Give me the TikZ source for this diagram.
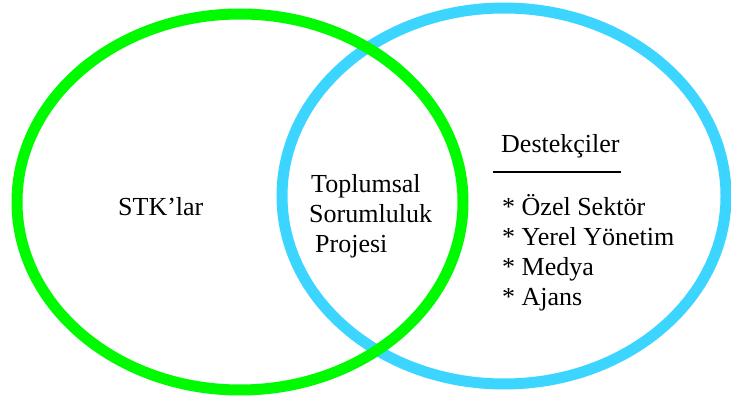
\documentclass[tikz,border=0pt]{standalone}
\usepackage{fontspec}
\setmainfont{Liberation Serif}
\usetikzlibrary{shapes.geometric}
\definecolor{vgreen}{RGB}{0,250,0}
\definecolor{vblue}{RGB}{60,213,255}
\tikzset{
  ring/.style={ellipse, draw, line width=11pt, inner sep=0pt, outer sep=0pt},
  lbl/.style={anchor=base west, inner sep=0pt, font=\fontsize{26}{30}\selectfont},
}
\begin{document}
\begin{tikzpicture}[x=1pt,y=-1pt]
\useasboundingbox (0,0) rectangle (731,403);
\node[ring, draw=vblue, minimum width=444pt, minimum height=376pt] (blue) at (504,196) {};
\node[ring, draw=vgreen, minimum width=446pt, minimum height=376pt] (green) at (240,202) {};
\node[lbl] (stk) at (118,216) {STK’lar};
\node[lbl] (t1) at (311,193) {Toplumsal};
\node[lbl] (t2) at (309,223) {Sorumluluk};
\node[lbl] (t3) at (315,253) {Projesi};
\node[lbl] (dest) at (501,153) {Destekçiler};
\coordinate (ulA) at (493,172);
\coordinate (ulB) at (621,172);
\draw[line width=1.5pt] (ulA) -- (ulB);
\node[lbl] (b1) at (502,216) {* Özel Sektör};
\node[lbl] (b2) at (502,246) {* Yerel Yönetim};
\node[lbl] (b3) at (502,276) {* Medya};
\node[lbl] (b4) at (502,306) {* Ajans};
\end{tikzpicture}
\end{document}
